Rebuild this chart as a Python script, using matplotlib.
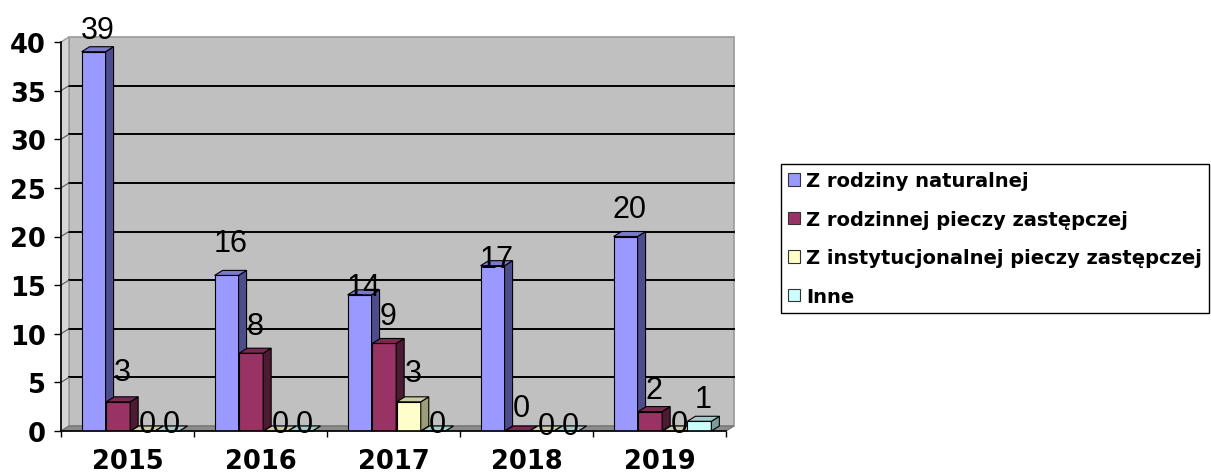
import matplotlib
matplotlib.use('Agg')
import matplotlib.pyplot as plt
from matplotlib.patches import Polygon, Patch
import numpy as np

# data
years = ['2015', '2016', '2017', '2018', '2019']
series_names = ['Z rodziny naturalnej',
                'Z rodzinnej pieczy zastępczej',
                'Z instytucjonalnej pieczy zastępczej',
                'Inne']
naturalna = [39, 16, 14, 17, 20]
rodzinna = [3, 8, 9, 0, 2]
instytucjonalna = [0, 0, 3, 0, 0]
inne = [0, 0, 0, 0, 1]
values = [naturalna, rodzinna, instytucjonalna, inne]

# style: front / side / top colour for each series
front = ['#9999FF', '#993366', '#FFFFCC', '#CCFFFF']
side = ['#4D4D8C', '#4D1A33', '#9C9C7A', '#7A9C9C']
top = ['#7A7ACC', '#7A2952', '#CCCCA3', '#A3CCCC']

# label lift above bar top, in pixels (Excel placed them unevenly)
lift_px = [[22, 32, 8, 7, 27],
           [30, 27, 27, 23, 22],
           [7, 7, 29, 5, 7],
           [7, 7, 7, 5, 22]]

W, H = 1211, 477
fig = plt.figure(figsize=(W / 100, H / 100), dpi=100)
ax = fig.add_axes([61 / W, 45 / H, 665 / W, 389 / H])
ax.set_xlim(0, 5)
ax.set_ylim(0, 40)
ax.patch.set_visible(False)

# 3d depth in data units
dx = 8 / 133
dy = 5 / 9.725

# walls and floor
ax.add_patch(Polygon([(dx, dy), (5 + dx, dy), (5 + dx, 40 + dy), (dx, 40 + dy)],
                     closed=True, facecolor='#C0C0C0', edgecolor='#9A9A9A',
                     lw=1.2, clip_on=False, zorder=0))
ax.add_patch(Polygon([(0, 0), (dx, dy), (dx, 40 + dy), (0, 40)],
                     closed=True, facecolor='#D6D6D6', edgecolor='#9A9A9A',
                     lw=1, clip_on=False, zorder=0))
ax.add_patch(Polygon([(0, 0), (5, 0), (5 + dx, dy), (dx, dy)],
                     closed=True, facecolor='#8C8C8C', edgecolor='#6E6E6E',
                     lw=0.8, clip_on=False, zorder=0.5))

for v in range(5, 40, 5):
    ax.plot([dx, 5 + dx], [v + dy, v + dy], color='black', lw=1.4,
            clip_on=False, zorder=1)
    ax.plot([0, dx], [v, v + dy], color='#555555', lw=0.8,
            clip_on=False, zorder=1)

bw = 0.18
pitch = 0.185
start = 0.155
x = np.arange(len(years))
for j, vals in enumerate(values):
    lefts = x + start + j * pitch
    ax.bar(lefts, vals, width=bw, align='edge', color=front[j],
           edgecolor='black', lw=0.8, zorder=3 + j)
    for i, (x0, h) in enumerate(zip(lefts, vals)):
        ax.add_patch(Polygon([(x0 + bw, 0), (x0 + bw + dx, dy),
                              (x0 + bw + dx, h + dy), (x0 + bw, h)],
                             closed=True, facecolor=side[j], edgecolor='black',
                             lw=0.8, clip_on=False, zorder=3 + j))
        ax.add_patch(Polygon([(x0, h), (x0 + dx, h + dy),
                              (x0 + bw + dx, h + dy), (x0 + bw, h)],
                             closed=True, facecolor=top[j], edgecolor='black',
                             lw=0.8, clip_on=False, zorder=3 + j))
        ax.annotate(str(h), (x0 + bw / 2, h), xytext=(3, lift_px[j][i] * 0.72),
                    textcoords='offset points', ha='center', va='center',
                    fontsize=22, family='Liberation Sans', color='black',
                    zorder=20)

# axes
for s in ['top', 'right']:
    ax.spines[s].set_visible(False)
for s in ['left', 'bottom']:
    ax.spines[s].set_color('black')
    ax.spines[s].set_linewidth(1.2)
    ax.spines[s].set_zorder(10)

ax.set_yticks(range(0, 41, 5))
ax.tick_params(axis='y', direction='out', length=5, width=1, pad=6,
               labelsize=18.5)
for t in ax.get_yticklabels():
    t.set_fontfamily('DejaVu Sans')
    t.set_fontweight('bold')

ax.set_xticks(range(0, 6))
ax.set_xticklabels([''] * 6)
ax.tick_params(axis='x', which='major', direction='out', length=4, width=1)
ax.set_xticks(x + 0.5, minor=True)
ax.set_xticklabels(years, minor=True, fontsize=18.5, fontweight='bold',
                   family='DejaVu Sans')
ax.tick_params(axis='x', which='minor', length=0, pad=12)

handles = [Patch(facecolor=front[j], edgecolor='#333333', lw=0.8)
           for j in range(4)]
leg = fig.legend(handles, series_names, loc='upper left',
                 bbox_to_anchor=(781 / W, 1 - 165 / H),
                 prop={'family': 'DejaVu Sans', 'weight': 'bold', 'size': 14},
                 frameon=True, fancybox=False, framealpha=1,
                 edgecolor='black', handlelength=0.6, handleheight=0.6,
                 handletextpad=0.3, labelspacing=1.0, borderpad=0.38,
                 borderaxespad=0)
leg.get_frame().set_linewidth(1)

fig.savefig('out.png', dpi=100, facecolor='white')
